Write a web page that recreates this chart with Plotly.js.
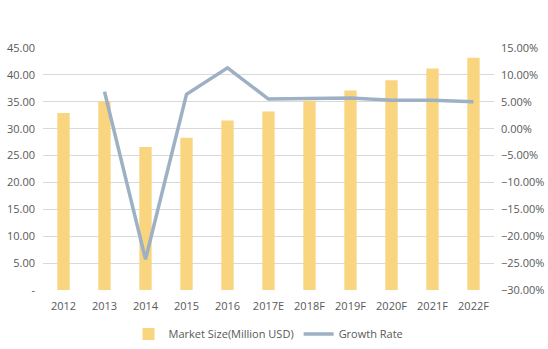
<!DOCTYPE html>
<html>
<head>
<meta charset="utf-8">
<script src="https://cdn.plot.ly/plotly-3.0.1.min.js"></script>
<style>html,body{margin:0;padding:0;background:#fff;}#chart{width:548px;height:349px;}</style>
</head>
<body>
<div id="chart"></div>
<script>
var years = ["2012","2013","2014","2015","2016","2017E","2018F","2019F","2020F","2021F","2022F"];
var marketSize = [32.9, 35.1, 26.6, 28.3, 31.5, 33.2, 35.2, 37.1, 39.0, 41.2, 43.2];
var growthYears = ["2013","2014","2015","2016","2017E","2018F","2019F","2020F","2021F","2022F"];
var growthRate = [0.069, -0.243, 0.064, 0.113, 0.055, 0.056, 0.057, 0.053, 0.053, 0.050];
var leftTickVals = [0, 5, 10, 15, 20, 25, 30, 35, 40, 45];
var leftTickText = ["-", "5.00", "10.00", "15.00", "20.00", "25.00", "30.00", "35.00", "40.00", "45.00"];
var rightTickVals = [-0.30, -0.25, -0.20, -0.15, -0.10, -0.05, 0, 0.05, 0.10, 0.15];

var traces = [
  {type: "bar", x: years, y: marketSize, name: "Market Size(Million USD)",
   marker: {color: "#F8D57E"}, hoverinfo: "x+y"},
  {type: "scatter", mode: "lines", x: growthYears, y: growthRate, name: "Growth Rate",
   yaxis: "y2", line: {color: "#9DB0C4", width: 3.5}}
];
var font = {family: "Open Sans, Liberation Sans, sans-serif", size: 11, color: "#595959"};
var layout = {
  width: 548, height: 349,
  margin: {l: 43, r: 54, t: 48, b: 59, autoexpand: false},
  paper_bgcolor: "#fff", plot_bgcolor: "#fff",
  font: font,
  bargap: 0.7,
  showlegend: true,
  legend: {orientation: "h", x: 0.5, xanchor: "center", yref: "container", y: 0.043, yanchor: "middle",
           font: {family: font.family, size: 11, color: "#595959"}},
  xaxis: {type: "category", categoryorder: "array", categoryarray: years,
          showgrid: false, showline: false, ticks: "", tickfont: font, zeroline: false,
          ticklabelstandoff: 8, automargin: false},
  yaxis: {range: [0, 45], tickvals: leftTickVals, ticktext: leftTickText,
          showgrid: true, gridcolor: "#D9D9D9", gridwidth: 1, zeroline: false,
          showline: false, ticks: "", tickfont: font, ticklabelstandoff: 7, automargin: false},
  yaxis2: {range: [-0.30, 0.15], tickvals: rightTickVals, tickformat: ".2%",
           overlaying: "y", side: "right", showgrid: false, zeroline: false,
           showline: false, ticks: "", tickfont: font, ticklabelstandoff: 6, automargin: false}
};
Plotly.newPlot("chart", traces, layout, {displayModeBar: false, staticPlot: true});
</script>
</body>
</html>
